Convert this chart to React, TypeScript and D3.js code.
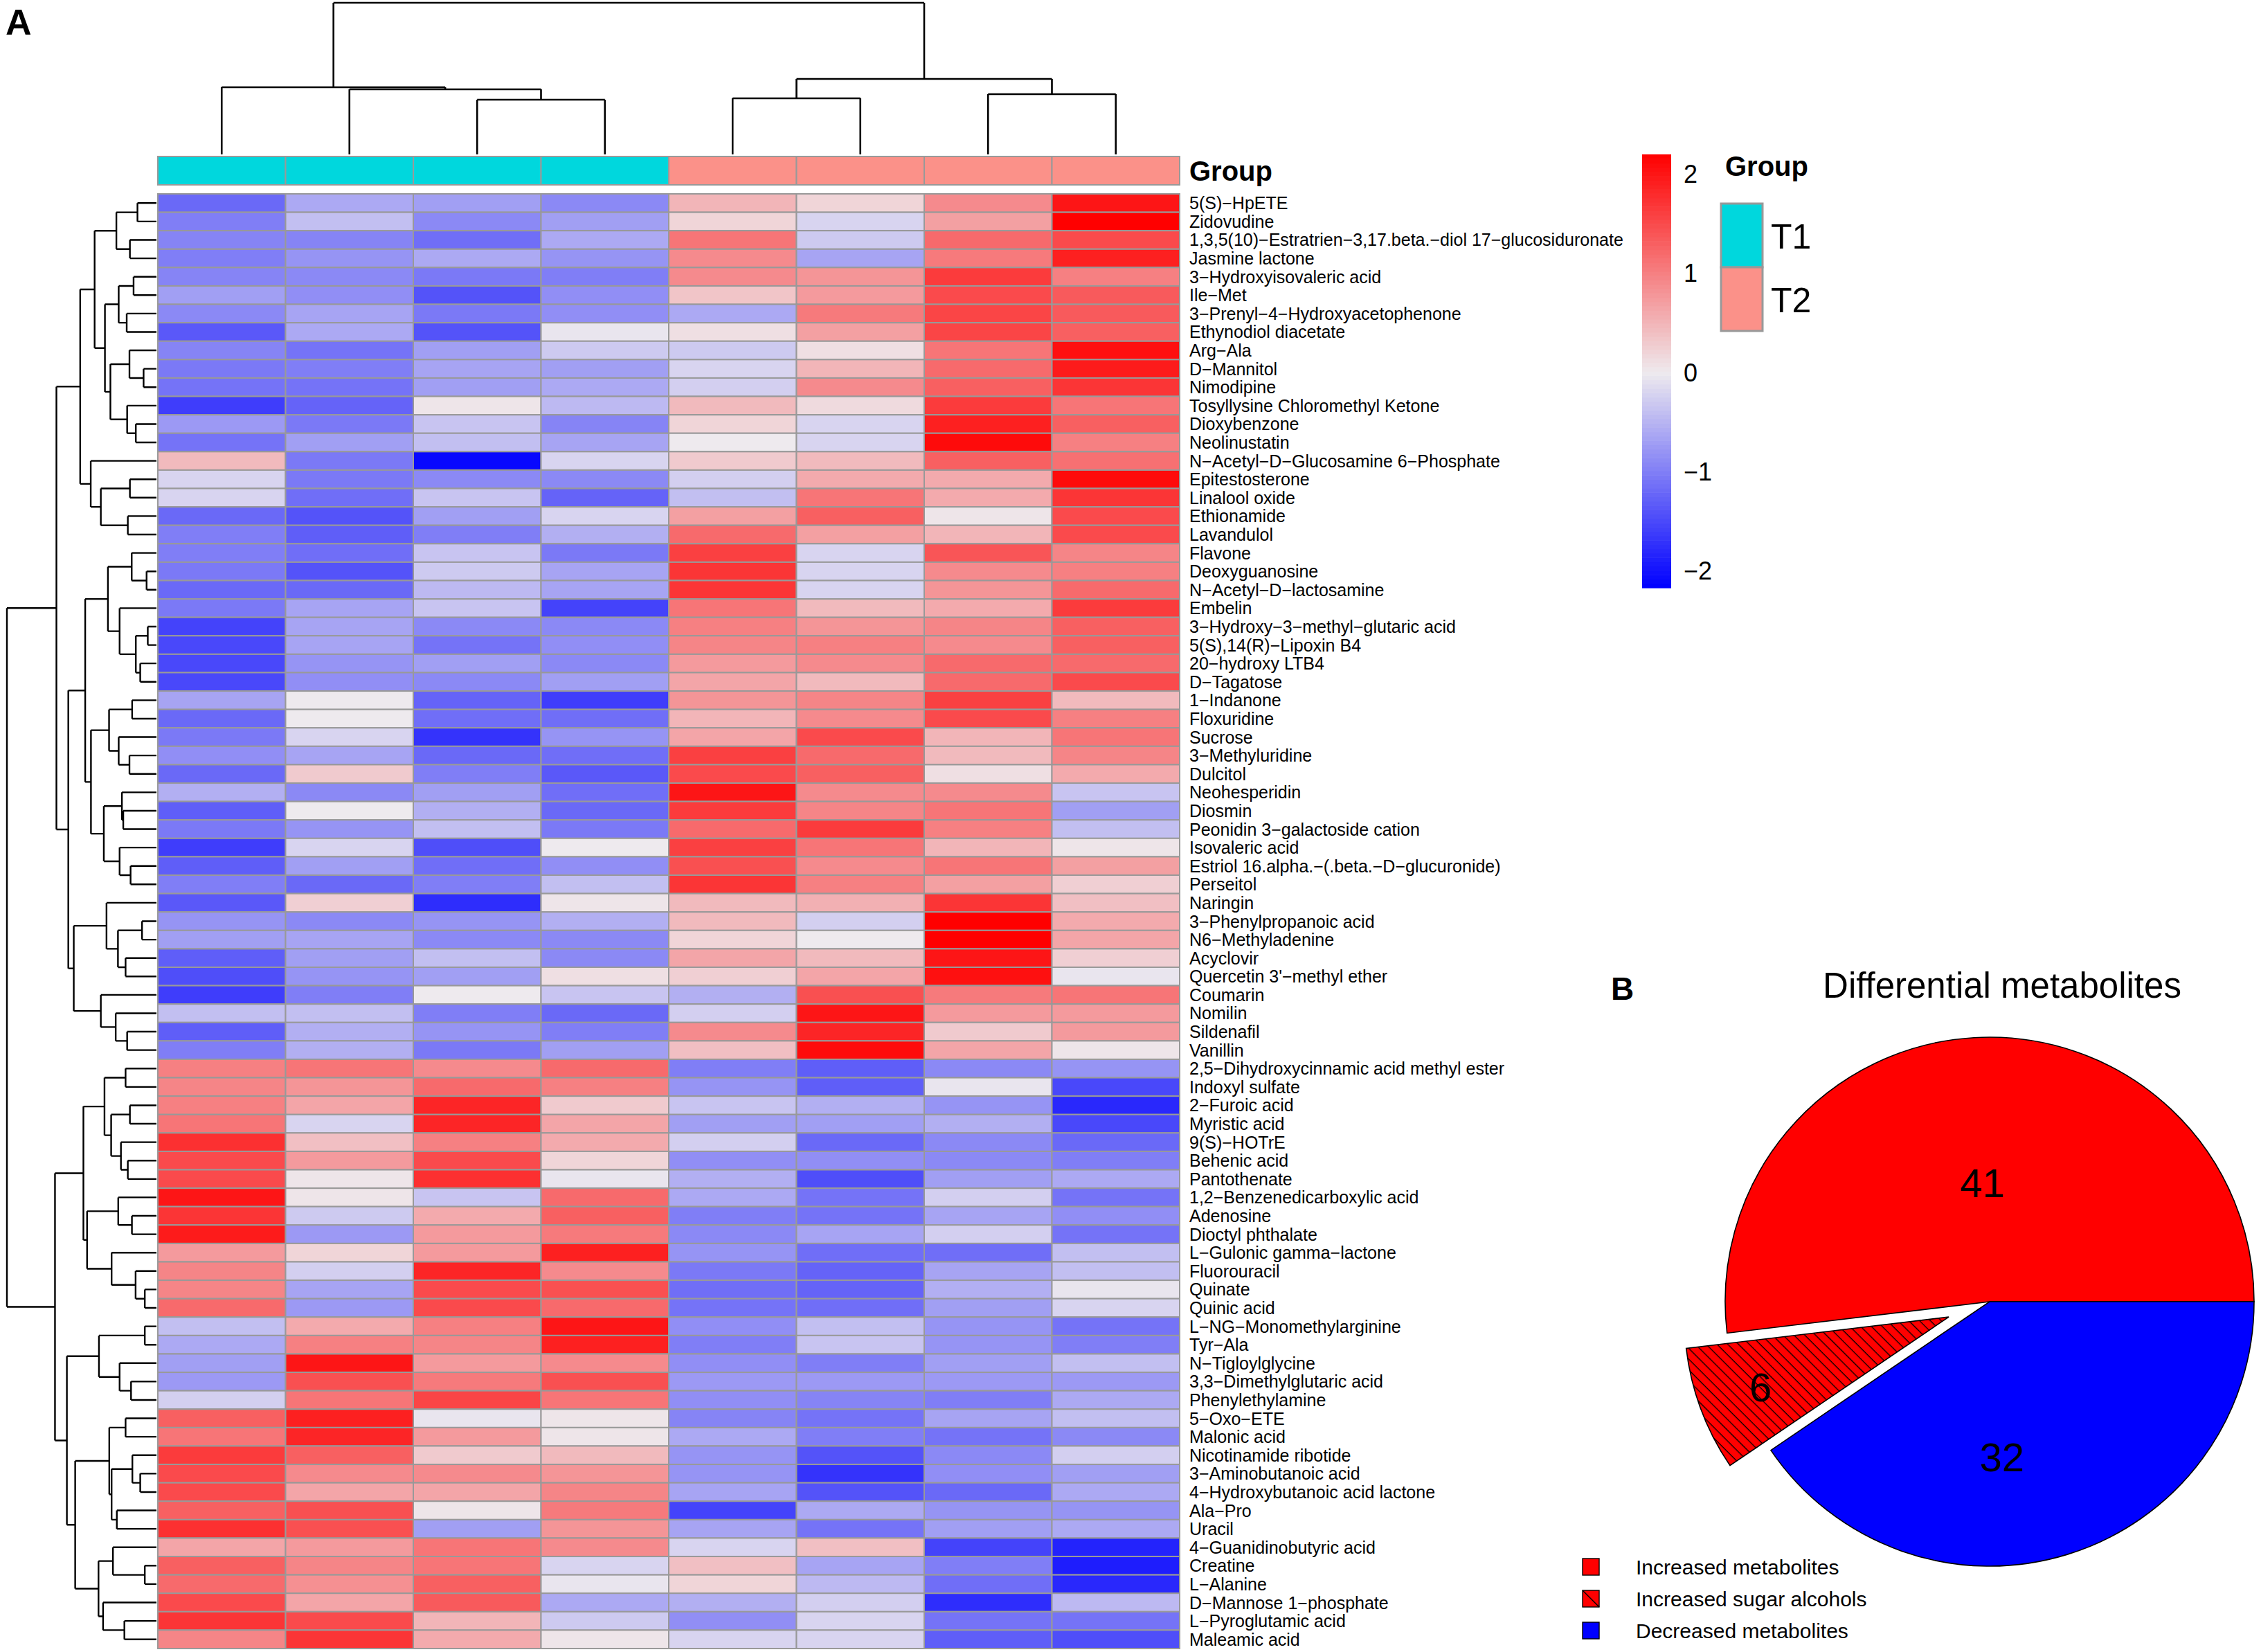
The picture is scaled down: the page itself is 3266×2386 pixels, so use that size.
import React from "react";
import * as d3 from "d3";

// metabolites, top to bottom as they sit in the clustered heatmap
const rowNames = [
  "5(S)-HpETE", "Zidovudine", "1,3,5(10)-Estratrien-3,17.beta.-diol 17-glucosiduronate", "Jasmine lactone",
  "3-Hydroxyisovaleric acid", "Ile-Met", "3-Prenyl-4-Hydroxyacetophenone", "Ethynodiol diacetate", "Arg-Ala",
  "D-Mannitol", "Nimodipine", "Tosyllysine Chloromethyl Ketone", "Dioxybenzone", "Neolinustatin",
  "N-Acetyl-D-Glucosamine 6-Phosphate", "Epitestosterone", "Linalool oxide", "Ethionamide", "Lavandulol",
  "Flavone", "Deoxyguanosine", "N-Acetyl-D-lactosamine", "Embelin", "3-Hydroxy-3-methyl-glutaric acid",
  "5(S),14(R)-Lipoxin B4", "20-hydroxy LTB4", "D-Tagatose", "1-Indanone", "Floxuridine", "Sucrose",
  "3-Methyluridine", "Dulcitol", "Neohesperidin", "Diosmin", "Peonidin 3-galactoside cation", "Isovaleric acid",
  "Estriol 16.alpha.-(.beta.-D-glucuronide)", "Perseitol", "Naringin", "3-Phenylpropanoic acid",
  "N6-Methyladenine", "Acyclovir", "Quercetin 3'-methyl ether", "Coumarin", "Nomilin", "Sildenafil", "Vanillin",
  "2,5-Dihydroxycinnamic acid methyl ester", "Indoxyl sulfate", "2-Furoic acid", "Myristic acid", "9(S)-HOTrE",
  "Behenic acid", "Pantothenate", "1,2-Benzenedicarboxylic acid", "Adenosine", "Dioctyl phthalate",
  "L-Gulonic gamma-lactone", "Fluorouracil", "Quinate", "Quinic acid", "L-NG-Monomethylarginine", "Tyr-Ala",
  "N-Tigloylglycine", "3,3-Dimethylglutaric acid", "Phenylethylamine", "5-Oxo-ETE", "Malonic acid",
  "Nicotinamide ribotide", "3-Aminobutanoic acid", "4-Hydroxybutanoic acid lactone", "Ala-Pro", "Uracil",
  "4-Guanidinobutyric acid", "Creatine", "L-Alanine", "D-Mannose 1-phosphate", "L-Pyroglutamic acid",
  "Maleamic acid",
];

// sample groups, left to right
const groups = ["T1", "T1", "T1", "T1", "T2", "T2", "T2", "T2"];
const groupColors = { T1: "#00D7DD", T2: "#FB9189" };

// row-scaled abundances (z-scores), one row per metabolite
const values = [
  [-1.2, -0.6, -0.7, -0.9, 0.5, 0.2, 0.9, 2.0],
  [-1.0, -0.4, -0.9, -0.7, 0.2, -0.2, 0.7, 2.2],
  [-0.95, -0.95, -1.15, -0.6, 1.1, -0.3, 1.2, 1.5],
  [-1.0, -0.8, -0.6, -0.8, 0.9, -0.65, 1.05, 1.9],
  [-0.95, -0.9, -1.05, -1.0, 0.9, 0.8, 1.65, 1.0],
  [-0.7, -0.85, -1.4, -0.85, 0.35, 0.75, 1.5, 1.35],
  [-0.9, -0.65, -1.05, -0.85, -0.6, 1.05, 1.55, 1.35],
  [-1.35, -0.6, -1.4, -0.05, 0.1, 0.7, 1.55, 1.3],
  [-0.95, -1.1, -0.7, -0.3, -0.3, 0.1, 1.1, 2.05],
  [-1.05, -1.0, -0.65, -0.7, -0.2, 0.5, 1.2, 1.95],
  [-1.1, -1.1, -0.7, -0.6, -0.25, 0.9, 1.3, 1.7],
  [-1.6, -1.25, 0.05, -0.45, 0.45, 0.15, 1.65, 1.1],
  [-0.75, -1.05, -0.35, -0.95, 0.2, -0.2, 1.9, 1.3],
  [-1.1, -0.7, -0.4, -0.65, 0.0, -0.2, 2.1, 1.0],
  [0.45, -1.05, -2.1, -0.2, 0.3, 0.45, 1.3, 1.15],
  [-0.2, -1.05, -0.9, -0.9, -0.25, 0.6, 0.6, 2.1],
  [-0.2, -1.15, -0.35, -1.25, -0.4, 1.1, 0.6, 1.7],
  [-1.2, -1.4, -0.7, -0.2, 0.7, 1.3, 0.05, 1.5],
  [-1.0, -1.3, -1.0, -0.55, 1.2, 0.7, 0.5, 1.5],
  [-1.0, -1.15, -0.35, -1.05, 1.6, -0.2, 1.4, 0.95],
  [-1.05, -1.4, -0.3, -0.65, 1.7, -0.2, 0.9, 1.0],
  [-1.2, -1.2, -0.45, -0.65, 1.7, -0.2, 0.8, 1.2],
  [-1.05, -0.65, -0.35, -1.55, 1.1, 0.45, 0.6, 1.65],
  [-1.55, -0.65, -0.9, -0.9, 1.0, 0.8, 0.95, 1.3],
  [-1.5, -0.65, -1.1, -0.85, 0.95, 1.0, 0.9, 1.3],
  [-1.5, -0.8, -0.7, -0.9, 0.75, 0.9, 1.2, 1.2],
  [-1.5, -0.85, -0.9, -0.7, 0.65, 0.45, 1.2, 1.5],
  [-0.65, 0.0, -1.25, -1.6, 0.8, 0.95, 1.6, 0.45],
  [-1.2, 0.0, -1.15, -1.15, 0.5, 0.9, 1.5, 1.0],
  [-1.05, -0.2, -1.7, -0.8, 0.65, 1.5, 0.5, 1.1],
  [-0.85, -0.65, -1.2, -1.15, 1.6, 1.2, 0.45, 0.95],
  [-1.2, 0.3, -1.0, -1.35, 1.5, 1.3, 0.1, 0.6],
  [-0.55, -0.9, -0.7, -1.15, 2.0, 0.9, 0.9, -0.35],
  [-1.3, 0.0, -0.55, -1.2, 1.65, 0.95, 1.1, -0.7],
  [-1.05, -0.8, -0.4, -1.05, 1.2, 1.65, 1.0, -0.4],
  [-1.6, -0.2, -1.45, 0.0, 1.6, 1.1, 0.5, 0.05],
  [-1.3, -0.7, -1.15, -0.85, 1.45, 0.9, 1.1, 0.7],
  [-1.0, -1.2, -1.0, -0.4, 1.7, 1.0, 0.7, 0.25],
  [-1.35, 0.25, -1.75, 0.05, 0.45, 0.55, 1.7, 0.4],
  [-0.8, -0.9, -0.8, -0.55, 0.45, -0.25, 2.2, 0.6],
  [-0.7, -0.65, -0.9, -0.9, 0.2, 0.0, 2.2, 0.65],
  [-1.3, -0.7, -0.4, -0.9, 0.65, 0.45, 2.0, 0.25],
  [-1.45, -0.8, -0.7, 0.1, 0.25, 0.65, 2.05, -0.05],
  [-1.6, -1.0, 0.0, -0.35, -0.55, 1.45, 1.05, 1.1],
  [-0.4, -0.4, -1.0, -1.2, -0.25, 2.0, 0.75, 0.75],
  [-1.3, -0.55, -0.8, -1.0, 0.9, 1.85, 0.3, 0.75],
  [-1.0, -0.55, -1.05, -0.7, 0.4, 2.1, 0.65, 0.05],
  [1.0, 1.1, 0.9, 1.2, -1.0, -1.3, -0.9, -0.8],
  [0.95, 0.8, 1.2, 1.0, -0.8, -1.3, -0.05, -1.5],
  [1.0, 0.65, 1.85, 0.3, -0.35, -0.55, -0.8, -1.8],
  [1.1, -0.2, 1.85, 0.65, -0.7, -0.7, -0.55, -1.5],
  [1.75, 0.4, 1.0, 0.6, -0.25, -1.2, -0.9, -1.2],
  [1.5, 0.75, 1.5, 0.2, -0.85, -0.85, -0.9, -1.0],
  [1.5, 0.05, 1.75, -0.05, -0.55, -1.45, -0.7, -0.6],
  [2.0, 0.05, -0.35, 1.2, -0.6, -1.1, -0.25, -1.1],
  [1.7, -0.3, 0.6, 1.3, -1.0, -1.1, -0.65, -0.85],
  [1.95, -0.75, 0.75, 1.05, -0.9, -0.65, -0.25, -1.1],
  [0.75, 0.2, 0.75, 1.9, -0.8, -1.15, -1.15, -0.4],
  [0.95, -0.25, 1.85, 0.9, -1.05, -1.25, -0.65, -0.4],
  [0.95, -0.65, 1.5, 1.45, -1.15, -1.25, -0.55, -0.05],
  [1.2, -0.75, 1.5, 1.2, -1.1, -1.15, -0.7, -0.2],
  [-0.4, 0.6, 1.0, 2.0, -0.85, -0.4, -0.8, -1.1],
  [-0.6, 1.0, 0.95, 1.9, -1.0, -0.35, -0.8, -1.0],
  [-0.7, 2.0, 0.75, 0.9, -0.85, -1.0, -0.7, -0.4],
  [-0.75, 1.45, 1.05, 1.45, -0.75, -0.75, -0.75, -0.75],
  [-0.25, 1.1, 1.55, 1.1, -0.85, -0.95, -1.0, -0.6],
  [1.3, 1.9, -0.05, 0.05, -0.95, -1.1, -0.65, -0.4],
  [1.1, 1.85, 0.75, 0.05, -0.6, -1.0, -1.1, -0.9],
  [1.65, 1.3, 0.3, 0.45, -0.8, -1.4, -0.9, -0.25],
  [1.5, 0.9, 0.9, 0.8, -0.8, -1.7, -0.85, -0.7],
  [1.5, 0.65, 0.65, 0.95, -0.65, -1.4, -1.2, -0.6],
  [1.3, 1.45, 0.05, 1.05, -1.55, -0.6, -0.8, -0.8],
  [1.75, 1.45, -0.7, 0.8, -0.65, -1.1, -0.7, -0.6],
  [0.65, 0.75, 1.1, 0.9, -0.2, 0.4, -1.55, -1.85],
  [1.3, 0.95, 1.1, -0.2, 0.4, -0.65, -1.0, -1.9],
  [1.2, 0.85, 1.3, -0.05, 0.2, -0.45, -1.15, -1.8],
  [1.5, 0.65, 1.35, -0.6, -0.55, -0.25, -1.75, -0.45],
  [1.7, 1.5, 0.5, -0.3, -0.85, -0.2, -1.1, -1.1],
  [0.95, 1.7, 0.6, 0.05, -0.2, -0.2, -1.3, -1.45],
];

// dendrograms as nested [left, right, height]; leaves are 1-based row / column numbers
type Tree = number | [Tree, Tree, number];

const rowTree: Tree = [
  [
    [
      [[[1, 2, 2.54], [3, 4, 3.55], 5.36],
        [[[5, 6, 3.06], [7, 8, 3.98], 5.05], [[9, [10, 11, 1.72], 3.61], [12, [13, 14, 2.76], 3.92], 6.16], 6.89], 8.27],
      [15, [[16, 17, 3.55], [18, 19, 3.83], 7.44], 8.79],
      10.2,
    ],
    [
      [
        [[20, [21, 22, 1.32], 3.31], [23, [[24, 25, 1.16], [26, 27, 2.17], 2.76], 4.93], 6.49],
        [[[28, 29, 3.25], [30, [31, 32, 3.61], 5.05], 6.34], [[33, [34, 35, 4.44], 4.62], [36, [37, 38, 3.46], 4.93], 7.04], 8.76],
        9.53,
      ],
      [[39, [[40, 41, 1.93], [42, 43, 4.13], 5.15], 6.68], [44, [45, [46, 47, 3.92], 5.45], 7.44], 11.06],
      11.79,
    ],
    13.38,
  ],
  [
    [
      [[48, 49, 4.13], [[50, 51, 3.55], [52, [53, 54, 3.83], 4.75], 6.06], 6.95],
      [[55, [56, 57, 3.28], 5.11], [58, [59, [60, 61, 1.56], 2.79], 6.0], 9.28],
      9.77,
    ],
    [
      [[62, 63, 1.56], [64, [65, 66, 3.4], 4.93], 7.69],
      [
        [[67, 68, 4.13], [[69, [70, 71, 2.17], 3.22], [72, 73, 5.3], 6.0], 6.31],
        [[74, [75, 76, 1.56], 5.82], [77, [78, 79, 4.29], 7.14], 7.75],
        10.87,
      ],
      11.98,
    ],
    13.57,
  ],
  20,
];

const colTree: Tree = [[1, [2, [3, 4, 79], 94], 97], [[5, 6, 81], [7, 8, 87], 109], 219];

// pie of differential metabolites
const pieLabels = ["Increased metabolites", "Increased sugar alcohols", "Decreased metabolites"];
const pieValues = [41, 6, 32];

const colorTicks = [2, 1, 0, -1, -2];

function elbows(node: Tree, pos: (leaf: number) => number, segs: number[][]) {
  if (typeof node === "number") return { p: pos(node), h: 0 };
  const a = elbows(node[0], pos, segs);
  const b = elbows(node[1], pos, segs);
  const h = node[2];
  segs.push([h, a.p, h, b.p], [h, a.p, a.h, a.p], [h, b.p, b.h, b.p]);
  return { p: (a.p + b.p) / 2, h };
}

const minus = (s: string) => s.replace(/-/g, "\u2212");

export default function App() {
  const width = 3266;
  const height = 2386;

  const x = d3.scaleBand<number>().domain(d3.range(groups.length)).range([228, 1704]);
  const y = d3.scaleBand<number>().domain(d3.range(rowNames.length)).range([280, 2381]);
  const color = d3
    .scaleLinear<string>()
    .domain([-2.17, 0, 2.2])
    .range(["#0000FF", "#EEEAEE", "#FF0000"]);

  // row dendrogram (left)
  const rowSegs: number[][] = [];
  elbows(rowTree, (i) => y(i - 1)! + y.bandwidth() / 2, rowSegs);
  const rowH = d3.scaleLinear().domain([0, 20]).range([226, 10]);
  const rowPath = rowSegs.map(([h1, p1, h2, p2]) => `M${rowH(h1)},${p1}L${rowH(h2)},${p2}`).join("");

  // column dendrogram (top)
  const colSegs: number[][] = [];
  elbows(colTree, (i) => x(i - 1)! + x.bandwidth() / 2, colSegs);
  const colH = d3.scaleLinear().domain([0, 219]).range([223, 4]);
  const colPath = colSegs.map(([h1, p1, h2, p2]) => `M${p1},${colH(h1)}L${p2},${colH(h2)}`).join("");

  // colour key
  const keyY = d3.scaleLinear().domain([-2.17, 2.2]).range([849, 223]);
  const steps = d3.range(100).map((i) => -2.17 + ((i + 0.5) * 4.37) / 100);
  const stepH = 626 / 100;

  // pie, counter-clockwise from 3 o'clock like base R
  const cx = 2874;
  const cy = 1880;
  const R = 382;
  const pies = d3
    .pie<number>()
    .sort(null)
    .startAngle(Math.PI / 2)
    .endAngle(Math.PI / 2 - 2 * Math.PI)(pieValues);
  const arc = d3.arc<d3.PieArcDatum<number>>().innerRadius(0).outerRadius(R);
  const explode = [0, 63, 0];
  const labelR = [0.45, 0.76, 0.59];
  const labelTurn = [0, 0, 0.22];
  const pieFill = ["#FF0000", "url(#hatch)", "#0000FF"];

  const font = "'Liberation Sans', Arial, Helvetica, sans-serif";

  return (
    <div style={{ position: "absolute", left: 0, top: 0 }}>
      <svg width={width} height={height} viewBox={`0 0 ${width} ${height}`} style={{ display: "block", background: "#fff" }} fontFamily={font}>
        <defs>
          <pattern id="hatch" patternUnits="userSpaceOnUse" width={11} height={11} patternTransform="rotate(45)">
            <rect width={11} height={11} fill="#FF0000" />
            <line x1={0} y1={0.5} x2={11} y2={0.5} stroke="#000" strokeWidth={1.6} />
          </pattern>
        </defs>

        <text x={8} y={50} fontSize={52} fontWeight="bold">A</text>

        {/* column dendrogram */}
        <path d={colPath} fill="none" stroke="#000" strokeWidth={2.6} />

        {/* group annotation */}
        {groups.map((g, j) => (
          <rect key={`g${j}`} x={x(j)} y={226} width={x.bandwidth()} height={41}
            fill={groupColors[g]} stroke="#999" strokeWidth={2} />
        ))}
        <text x={1718} y={247} fontSize={40} fontWeight="bold" dominantBaseline="central">Group</text>

        {/* row dendrogram */}
        <path d={rowPath} fill="none" stroke="#000" strokeWidth={2.4} />

        {/* heatmap cells */}
        {values.map((row, i) =>
          row.map((v, j) => (
            <rect key={`c${i}-${j}`} x={x(j)} y={y(i)} width={x.bandwidth()} height={y.bandwidth()}
              fill={color(v)} stroke="#999" strokeWidth={2} />
          ))
        )}

        {rowNames.map((name, i) => (
          <text key={`r${i}`} x={1718} y={y(i)! + y.bandwidth() / 2} fontSize={25} dominantBaseline="central">
            {minus(name)}
          </text>
        ))}

        {/* colour key */}
        {steps.map((v, i) => (
          <rect key={`k${i}`} x={2372} y={keyY(v) - stepH / 2} width={42} height={stepH + 0.6} fill={color(v)} />
        ))}
        {colorTicks.map((t) => (
          <text key={`t${t}`} x={2432} y={keyY(t)} fontSize={36} dominantBaseline="central">
            {t < 0 ? `\u2212${-t}` : `${t}`}
          </text>
        ))}

        {/* group legend */}
        <text x={2492} y={254} fontSize={40} fontWeight="bold">Group</text>
        {["T1", "T2"].map((g, i) => (
          <g key={g}>
            <rect x={2486} y={294 + i * 92} width={60} height={92} fill={groupColors[g]} stroke="#999" strokeWidth={3} />
            <text x={2558} y={342 + i * 92} fontSize={50} dominantBaseline="central">{g}</text>
          </g>
        ))}

        {/* panel B */}
        <text x={2327} y={1444} fontSize={46} fontWeight="bold">B</text>
        <text x={2892} y={1441} fontSize={51} textAnchor="middle">Differential metabolites</text>

        {pies.map((p, i) => {
          const mid = (p.startAngle + p.endAngle) / 2;
          const dx = Math.sin(mid) * explode[i];
          const dy = -Math.cos(mid) * explode[i];
          const la = mid + labelTurn[i];
          const lr = labelR[i] * R;
          return (
            <g key={`p${i}`} transform={`translate(${cx + dx},${cy + dy})`}>
              <path d={arc(p)!} fill={pieFill[i]} stroke="#000" strokeWidth={1.6} />
              <text x={Math.sin(la) * lr} y={-Math.cos(la) * lr} fontSize={58} textAnchor="middle" dominantBaseline="central">
                {pieValues[i]}
              </text>
            </g>
          );
        })}

        {pieLabels.map((lab, i) => {
          const yy = 2263 + i * 46;
          return (
            <g key={`l${i}`}>
              <rect x={2286} y={yy - 12} width={24} height={24} fill={i === 2 ? "#0000FF" : "#FF0000"} stroke="#000" strokeWidth={1.4} />
              {i === 1 && <line x1={2286} y1={yy - 12} x2={2310} y2={yy + 12} stroke="#000" strokeWidth={1.4} />}
              <text x={2363} y={yy} fontSize={30} dominantBaseline="central">{lab}</text>
            </g>
          );
        })}
      </svg>
    </div>
  );
}
